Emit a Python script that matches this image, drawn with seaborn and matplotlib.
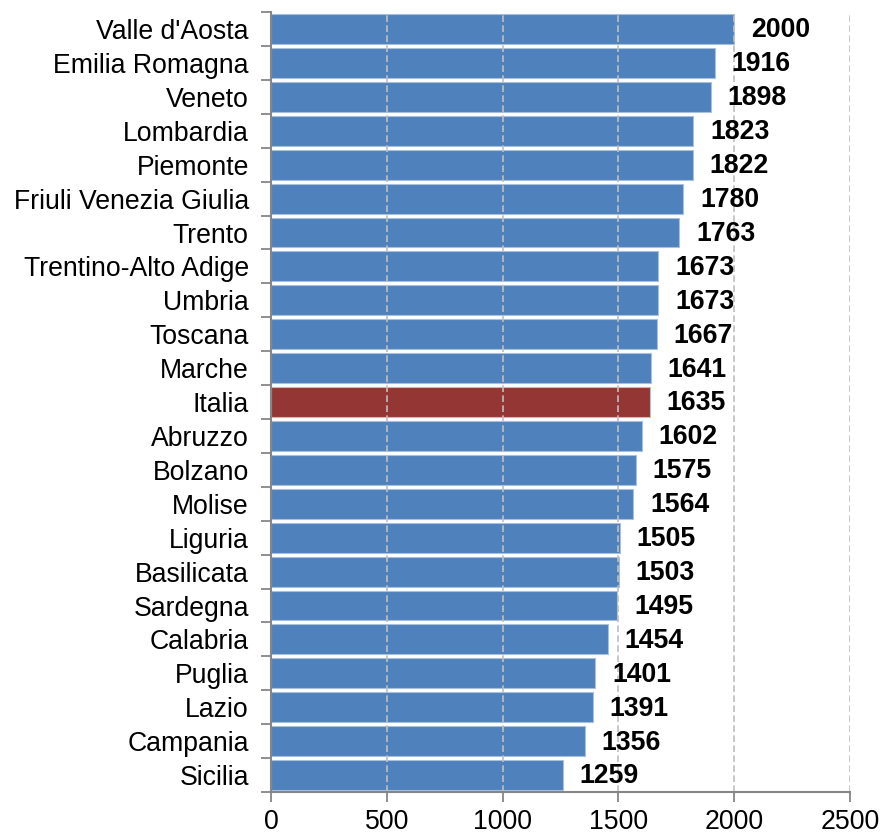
import matplotlib
matplotlib.use("Agg")
import matplotlib.pyplot as plt
import seaborn as sns
import pandas as pd
import numpy as np

regions = ["Valle d'Aosta", "Emilia Romagna", "Veneto", "Lombardia", "Piemonte",
           "Friuli Venezia Giulia", "Trento", "Trentino-Alto Adige", "Umbria",
           "Toscana", "Marche", "Italia", "Abruzzo", "Bolzano", "Molise",
           "Liguria", "Basilicata", "Sardegna", "Calabria", "Puglia", "Lazio",
           "Campania", "Sicilia"]
values = [2000, 1916, 1898, 1823, 1822, 1780, 1763, 1673, 1673, 1667, 1641,
          1635, 1602, 1575, 1564, 1505, 1503, 1495, 1454, 1401, 1391, 1356, 1259]
x_ticks = [0, 500, 1000, 1500, 2000, 2500]

BLUE = "#4F81BD"
RED = "#943634"
AXIS_GRAY = "#868686"
FS = 19.2

sns.set_theme(style="white")
plt.rcParams["font.family"] = ["Liberation Sans", "DejaVu Sans"]
plt.rcParams["text.color"] = "black"
plt.rcParams["xtick.color"] = AXIS_GRAY
plt.rcParams["ytick.color"] = AXIS_GRAY
plt.rcParams["xtick.labelcolor"] = "black"
plt.rcParams["ytick.labelcolor"] = "black"

df = pd.DataFrame({"region": regions, "value": values})
palette = {r: (RED if r == "Italia" else BLUE) for r in regions}

fig = plt.figure(figsize=(8.83, 8.35), dpi=100)
ax = fig.add_axes([0.307, 0.0515, 0.6556, 0.934])

sns.barplot(data=df, y="region", x="value", hue="region", palette=palette,
            order=regions, legend=False, width=0.88, saturation=1,
            edgecolor="#A7C0DE", linewidth=0.8, ax=ax, zorder=2)

ax.set_xlim(0, 2500)
ax.set_ylim(len(regions) - 0.5, -0.5)
ax.set_xticks(x_ticks)
ax.set_xticklabels([str(t) for t in x_ticks], fontsize=FS)
ax.set_xlabel("")
ax.set_ylabel("")
ax.tick_params(axis="y", which="major", left=True, length=0, labelsize=FS, pad=16)
ax.set_yticks(np.arange(-0.5, len(regions), 1), minor=True)
ax.tick_params(axis="y", which="minor", left=True, length=7, width=1.3,
               color=AXIS_GRAY, direction="out")
ax.tick_params(axis="x", which="major", bottom=True, length=7, width=1.3,
               color=AXIS_GRAY, direction="out", pad=5)

# dashed vertical gridlines
for t in x_ticks[1:]:
    ax.axvline(t, color="#BFBFBF", linestyle=(0, (4, 2)), linewidth=1.2, zorder=3)

for s in ["top", "right"]:
    ax.spines[s].set_visible(False)
for s in ["left", "bottom"]:
    ax.spines[s].set_color(AXIS_GRAY)
    ax.spines[s].set_linewidth(1.5)
    ax.spines[s].set_zorder(4)

# value labels beside each bar
for i, v in enumerate(values):
    ax.annotate(str(v), xy=(v, i), xytext=(12, -1), textcoords="offset points",
                ha="left", va="center", fontsize=FS, fontweight="bold",
                color="black", zorder=5)

fig.savefig("out.png", dpi=100)
